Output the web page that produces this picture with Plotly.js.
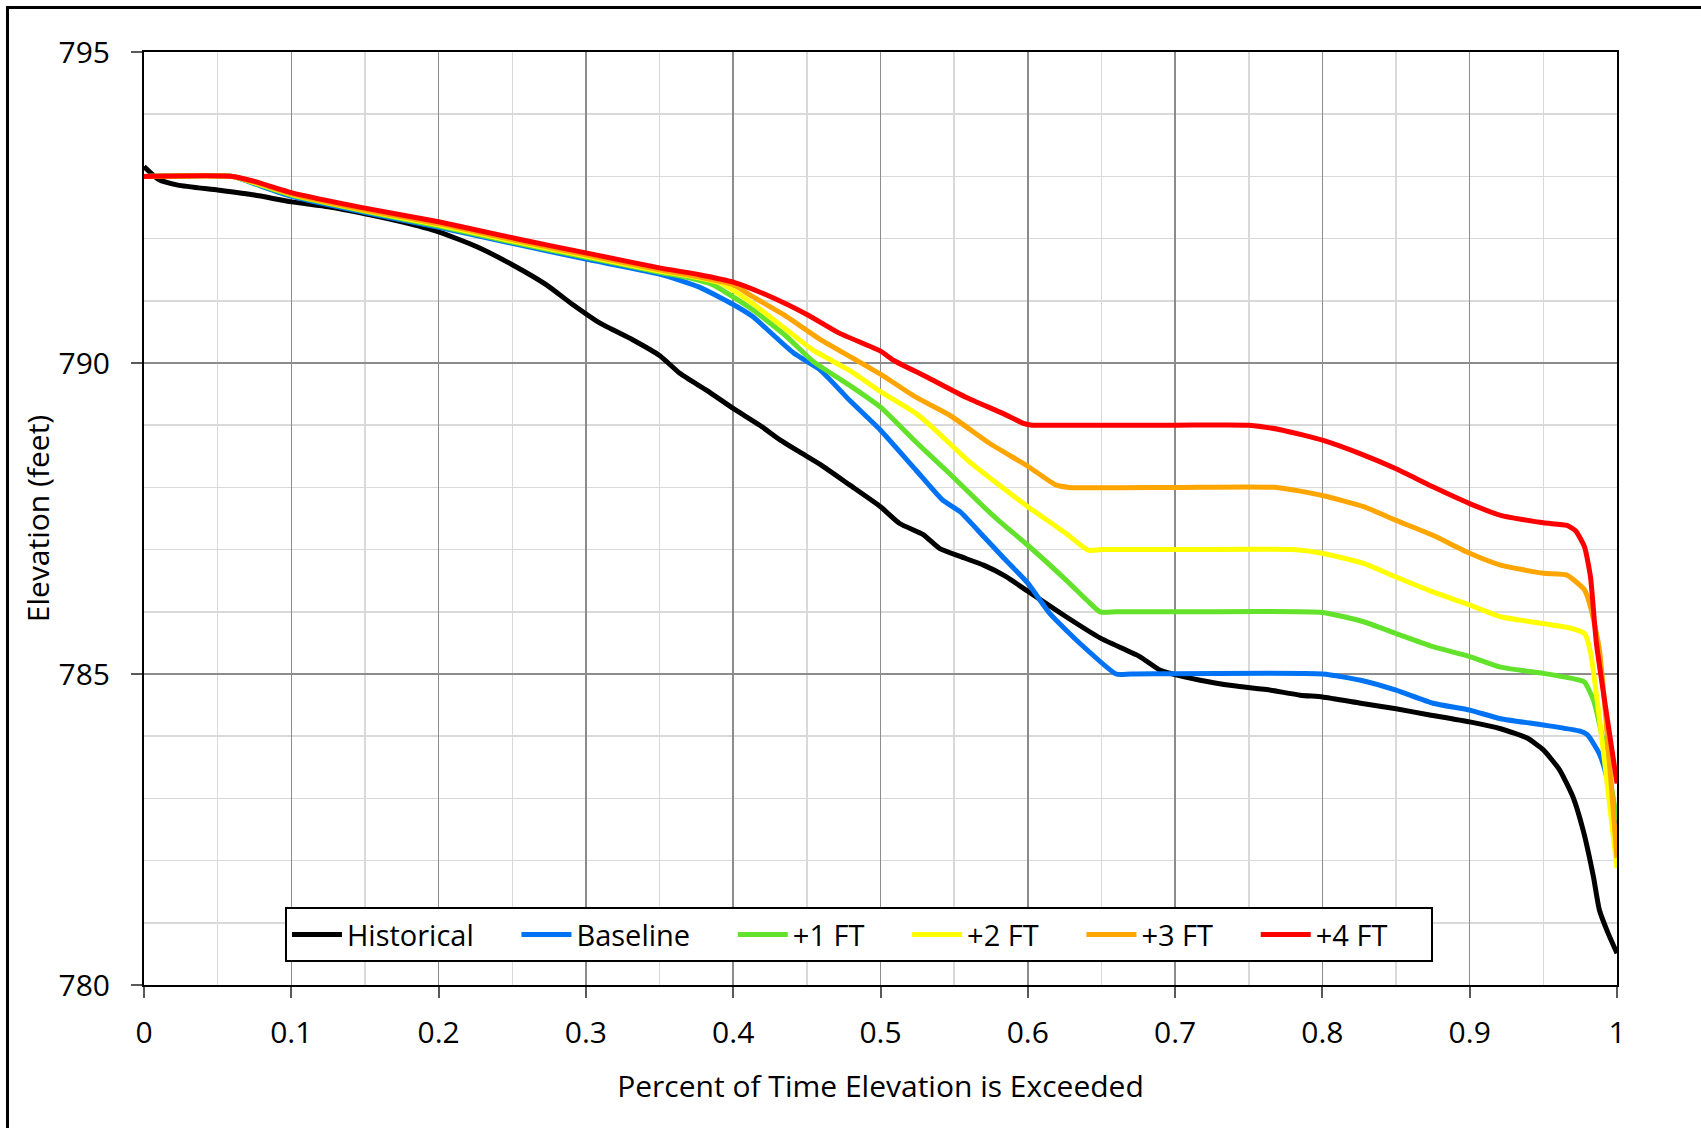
<!DOCTYPE html>
<html>
<head>
<meta charset="utf-8">
<script src="https://cdn.plot.ly/plotly-3.0.1.min.js"></script>
<style>
  html, body { margin: 0; padding: 0; width: 1701px; height: 1128px; overflow: hidden; background: #fff; }
  #chart { position: absolute; left: 0; top: 0; width: 1701px; height: 1128px; }
  #frame { position: absolute; left: 6px; top: 6px; width: 2000px; height: 2000px; border: 3px solid #000; pointer-events: none; z-index: 10; }
</style>
</head>
<body>
<div id="chart"></div>
<div id="frame"></div>
<script>
// ---- data ----
const seriesNames = ["Historical", "Baseline", "+1 FT", "+2 FT", "+3 FT", "+4 FT"];
const seriesColors = ["#000000", "#0073F5", "#62E22A", "#FFFF00", "#FFA500", "#FF0000"];

const histX = [0, 0.01, 0.023, 0.05, 0.075, 0.1, 0.125, 0.15, 0.175, 0.2, 0.226, 0.25, 0.273, 0.291, 0.3096, 0.332, 0.35, 0.364, 0.382, 0.4, 0.418, 0.432, 0.445, 0.459, 0.479, 0.5, 0.513, 0.529, 0.54, 0.554, 0.57, 0.585, 0.6, 0.626, 0.649, 0.676, 0.69, 0.717, 0.74, 0.762, 0.785, 0.8, 0.826, 0.85, 0.871, 0.9, 0.921, 0.939, 0.95, 0.961, 0.97, 0.977, 0.984, 0.988, 0.994, 1.0];
const histY = [793.16, 792.95, 792.86, 792.78, 792.70, 792.59, 792.51, 792.40, 792.27, 792.11, 791.87, 791.58, 791.26, 790.94, 790.64, 790.37, 790.12, 789.83, 789.56, 789.27, 789.00, 788.76, 788.57, 788.37, 788.04, 787.69, 787.42, 787.24, 787.02, 786.89, 786.75, 786.57, 786.33, 785.92, 785.58, 785.28, 785.06, 784.90, 784.81, 784.75, 784.66, 784.63, 784.53, 784.44, 784.35, 784.23, 784.12, 783.97, 783.78, 783.46, 783.03, 782.49, 781.74, 781.21, 780.83, 780.51];

const baseX = [0, 0.06, 0.075, 0.1, 0.15, 0.2, 0.2547, 0.3, 0.35, 0.377, 0.4, 0.413, 0.441, 0.459, 0.479, 0.5, 0.524, 0.542, 0.554, 0.57, 0.583, 0.6, 0.615, 0.6355, 0.66, 0.67, 0.8, 0.826, 0.85, 0.875, 0.9, 0.921, 0.95, 0.975, 0.98, 0.988, 0.993, 0.9975, 1.0];
const baseY = [793.0, 793.0, 792.88, 792.68, 792.42, 792.18, 791.90, 791.67, 791.43, 791.22, 790.94, 790.75, 790.16, 789.89, 789.40, 788.92, 788.28, 787.80, 787.61, 787.21, 786.88, 786.46, 785.97, 785.49, 785.0, 785.0, 785.0, 784.90, 784.74, 784.53, 784.42, 784.28, 784.18, 784.08, 784.02, 783.72, 783.35, 782.81, 782.44];

const ft1X = [0, 0.06, 0.075, 0.1, 0.15, 0.2, 0.2547, 0.3, 0.35, 0.37, 0.386, 0.413, 0.436, 0.454, 0.479, 0.5, 0.524, 0.547, 0.57, 0.581, 0.6, 0.626, 0.64, 0.649, 0.66, 0.7, 0.8, 0.828, 0.85, 0.875, 0.9, 0.921, 0.95, 0.973, 0.978, 0.984, 0.988, 0.995, 1.0];
const ft1Y = [793.0, 793.0, 792.89, 792.70, 792.44, 792.20, 791.92, 791.70, 791.46, 791.37, 791.26, 790.86, 790.43, 790.03, 789.64, 789.29, 788.73, 788.22, 787.69, 787.45, 787.07, 786.51, 786.19, 786.0, 786.0, 786.0, 785.99, 785.84, 785.65, 785.44, 785.28, 785.11, 785.01, 784.91, 784.87, 784.58, 784.21, 783.35, 782.65];

const ft2X = [0, 0.06, 0.075, 0.1, 0.15, 0.2, 0.2547, 0.3, 0.35, 0.37, 0.391, 0.413, 0.436, 0.454, 0.479, 0.5, 0.524, 0.536, 0.559, 0.581, 0.6, 0.626, 0.641, 0.65, 0.7, 0.78, 0.8, 0.828, 0.85, 0.875, 0.9, 0.921, 0.95, 0.968, 0.978, 0.982, 1.0];
const ft2Y = [793.0, 793.0, 792.90, 792.71, 792.45, 792.22, 791.94, 791.72, 791.48, 791.40, 791.29, 790.96, 790.54, 790.21, 789.88, 789.54, 789.19, 788.95, 788.44, 788.03, 787.69, 787.26, 786.99, 787.0, 787.0, 787.0, 786.94, 786.78, 786.56, 786.32, 786.11, 785.92, 785.81, 785.74, 785.65, 785.35, 781.88];

const ft3X = [0, 0.06, 0.075, 0.1, 0.15, 0.2, 0.2547, 0.3, 0.35, 0.377, 0.4, 0.413, 0.436, 0.459, 0.481, 0.5, 0.524, 0.547, 0.574, 0.6, 0.619, 0.628, 0.7, 0.769, 0.8, 0.828, 0.85, 0.875, 0.9, 0.921, 0.95, 0.966, 0.978, 0.982, 0.988, 1.0];
const ft3Y = [793.0, 793.0, 792.91, 792.72, 792.46, 792.24, 791.96, 791.74, 791.50, 791.38, 791.26, 791.07, 790.75, 790.38, 790.08, 789.82, 789.45, 789.16, 788.71, 788.34, 788.04, 788.0, 788.0, 788.0, 787.87, 787.69, 787.47, 787.23, 786.94, 786.75, 786.62, 786.59, 786.35, 786.08, 785.40, 782.04];

const ft4X = [0, 0.06, 0.075, 0.1, 0.15, 0.2, 0.2547, 0.3, 0.35, 0.377, 0.4, 0.422, 0.45, 0.472, 0.5, 0.509, 0.531, 0.558, 0.583, 0.597, 0.603, 0.61, 0.7, 0.75, 0.773, 0.8, 0.826, 0.85, 0.875, 0.9, 0.921, 0.95, 0.966, 0.972, 0.978, 0.982, 0.986, 1.0];
const ft4Y = [793.0, 793.0, 792.92, 792.74, 792.49, 792.27, 791.99, 791.77, 791.53, 791.42, 791.30, 791.10, 790.78, 790.48, 790.19, 790.04, 789.78, 789.45, 789.19, 789.03, 789.0, 789.0, 789.0, 789.0, 788.92, 788.76, 788.54, 788.30, 788.01, 787.74, 787.55, 787.43, 787.39, 787.30, 787.04, 786.56, 785.50, 783.24];

const xTickVals = [0, 0.1, 0.2, 0.3, 0.4, 0.5, 0.6, 0.7, 0.8, 0.9, 1];
const xTickText = ["0", "0.1", "0.2", "0.3", "0.4", "0.5", "0.6", "0.7", "0.8", "0.9", "1"];
const yTickVals = [780, 785, 790, 795];
const yTickText = ["780", "785", "790", "795"];

const xs = [histX, baseX, ft1X, ft2X, ft3X, ft4X];
const ys = [histY, baseY, ft1Y, ft2Y, ft3Y, ft4Y];

// legend entries are separated by a little trailing space, as in the reference
const PAD = "\u00a0\u00a0\u00a0\u00a0\u00a0";

const traces = seriesNames.map((name, i) => ({
  type: "scatter",
  mode: "lines",
  name: name + PAD,
  x: xs[i],
  y: ys[i],
  line: { color: seriesColors[i], width: 5, shape: "spline", smoothing: 0.5 },
  hoverinfo: "x+y"
}));

const FONT = "Open Sans, Noto Sans, DejaVu Sans, sans-serif";

const layout = {
  width: 1701,
  height: 1128,
  paper_bgcolor: "#ffffff",
  plot_bgcolor: "#ffffff",
  margin: { l: 144, r: 84, t: 52, b: 143, pad: 0 },
  font: { family: FONT, size: 30, color: "#000000" },
  showlegend: true,
  legend: {
    orientation: "h",
    x: 0.0957, xanchor: "left",
    y: 0.054, yanchor: "middle",
    bgcolor: "#ffffff",
    bordercolor: "#000000",
    borderwidth: 2,
    font: { family: FONT, size: 29, color: "#000000" },
    itemwidth: 50,
    traceorder: "normal"
  },
  xaxis: {
    range: [0, 1],
    tickmode: "array",
    tickvals: xTickVals,
    ticktext: xTickText,
    ticks: "outside",
    ticklen: 11,
    tickwidth: 2,
    tickcolor: "#595959",
    tickfont: { family: FONT, size: 30, color: "#000000" },
    ticklabelstandoff: 9,
    showline: true,
    linecolor: "#000000",
    linewidth: 2,
    mirror: true,
    showgrid: true,
    gridcolor: "#8c8c8c",
    gridwidth: 1.5,
    zeroline: false,
    minor: { dtick: 0.05, showgrid: true, gridcolor: "#d9d9d9", gridwidth: 1.5, ticks: "" },
    title: { text: "Percent of Time Elevation is Exceeded", font: { family: FONT, size: 30, color: "#000000" }, standoff: 25 },
    automargin: false,
    fixedrange: true
  },
  yaxis: {
    range: [780, 795],
    tickmode: "array",
    tickvals: yTickVals,
    ticktext: yTickText,
    ticks: "outside",
    ticklen: 11,
    tickwidth: 2,
    tickcolor: "#595959",
    tickfont: { family: FONT, size: 30, color: "#000000" },
    ticklabelstandoff: 15,
    showline: true,
    linecolor: "#000000",
    linewidth: 2,
    mirror: true,
    showgrid: true,
    gridcolor: "#8c8c8c",
    gridwidth: 1.5,
    zeroline: false,
    minor: { dtick: 1, showgrid: true, gridcolor: "#d9d9d9", gridwidth: 1.5, ticks: "" },
    title: { text: "Elevation (feet)", font: { family: FONT, size: 30, color: "#000000" }, standoff: 0 },
    automargin: false,
    fixedrange: true
  }
};

Plotly.newPlot("chart", traces, layout, { staticPlot: true, displayModeBar: false });
</script>
</body>
</html>
